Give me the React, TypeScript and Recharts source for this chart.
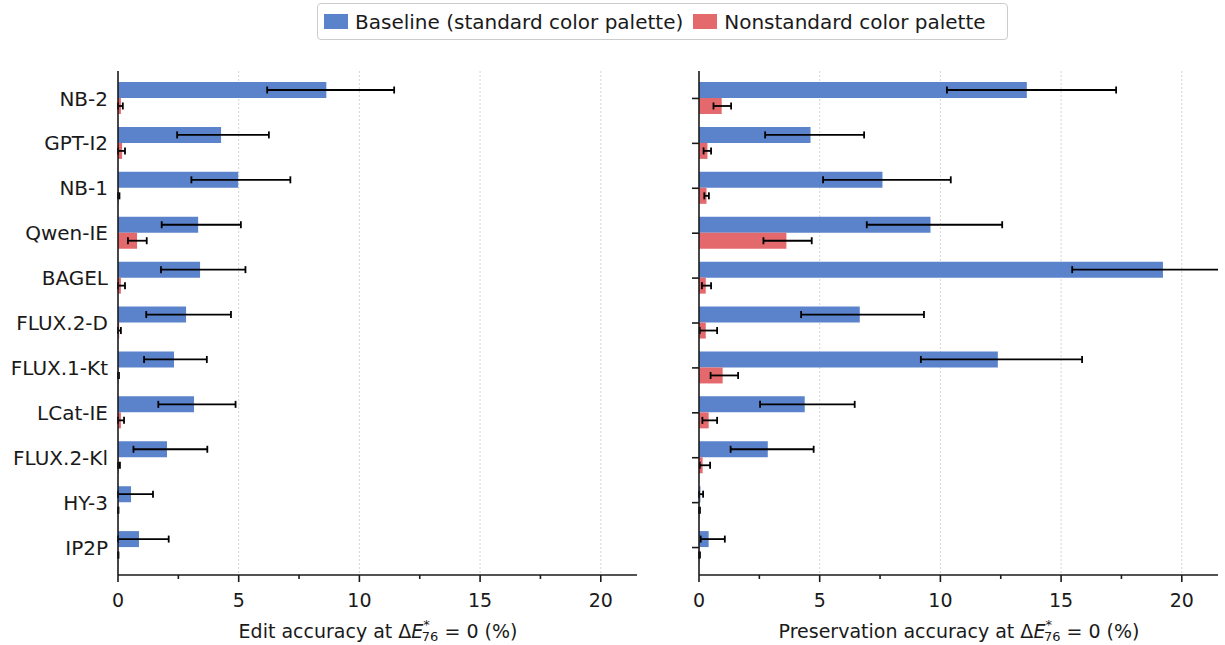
import { BarChart, Bar, XAxis, YAxis, CartesianGrid, ErrorBar } from 'recharts'

// categories (top to bottom)
const models = ['NB-2', 'GPT-I2', 'NB-1', 'Qwen-IE', 'BAGEL', 'FLUX.2-D', 'FLUX.1-Kt', 'LCat-IE', 'FLUX.2-Kl', 'HY-3', 'IP2P']

// edit accuracy (%), errors as [below, above]
const editBaseline = [8.63, 4.27, 4.98, 3.32, 3.4, 2.82, 2.32, 3.15, 2.03, 0.54, 0.87]
const editBaselineErr = [[2.45, 2.81], [1.82, 1.98], [1.94, 2.16], [1.51, 1.77], [1.62, 1.88], [1.65, 1.86], [1.24, 1.36], [1.48, 1.72], [1.39, 1.67], [0.54, 0.91], [0.87, 1.23]]
const editNonstd = [0.12, 0.17, 0.03, 0.79, 0.12, 0.05, 0.02, 0.12, 0.04, 0.01, 0.01]
const editNonstdErr = [[0.12, 0.08], [0.17, 0.12], [0.03, 0.03], [0.38, 0.4], [0.12, 0.17], [0.05, 0.07], [0.02, 0.02], [0.12, 0.13], [0.04, 0.04], [0.01, 0.01], [0.01, 0.01]]

// preservation accuracy (%)
const presBaseline = [13.58, 4.62, 7.6, 9.59, 19.22, 6.66, 12.38, 4.38, 2.85, 0.06, 0.4]
const presBaselineErr = [[3.31, 3.7], [1.88, 2.22], [2.46, 2.83], [2.64, 2.97], [3.76, 3.76], [2.43, 2.66], [3.19, 3.49], [1.85, 2.07], [1.54, 1.9], [0.06, 0.11], [0.33, 0.67]]
const presNonstd = [0.94, 0.35, 0.31, 3.62, 0.28, 0.28, 0.98, 0.4, 0.15, 0.02, 0.02]
const presNonstdErr = [[0.34, 0.39], [0.16, 0.15], [0.09, 0.1], [0.95, 1.05], [0.16, 0.22], [0.25, 0.47], [0.5, 0.64], [0.26, 0.35], [0.12, 0.31], [0.02, 0.02], [0.02, 0.02]]

const xTicks = [0, 2.5, 5, 7.5, 10, 12.5, 15, 17.5, 20]
const gridValues = [5, 10, 15, 20]

const series = [
  { name: 'Baseline (standard color palette)', color: '#5b83cb' },
  { name: 'Nonstandard color palette', color: '#e4696d' },
]

const editData = models.map((model, i) => ({
  model,
  base: editBaseline[i],
  baseErr: editBaselineErr[i],
  non: editNonstd[i],
  nonErr: editNonstdErr[i],
}))

const presData = models.map((model, i) => ({
  model,
  base: presBaseline[i],
  baseErr: presBaselineErr[i],
  non: presNonstd[i],
  nonErr: presNonstdErr[i],
}))

const FONT = '"DejaVu Sans", "Open Sans", sans-serif'
const INK = '#1a1a1a'

const XTick = (props: any) => {
  const { x, y, payload } = props
  const major = payload.value % 5 === 0
  return (
    <g>
      <line x1={x} x2={x} y1={y} y2={y + (major ? 7 : 4)} stroke={INK} strokeWidth={1.6} />
      {major && (
        <text x={x} y={y + 32} textAnchor="middle" fontSize={19} fill={INK} fontFamily={FONT}>
          {payload.value}
        </text>
      )}
    </g>
  )
}

const AxisTitle = ({ cx, lead }: { cx: number; lead: string }) => (
  <svg style={{ position: 'absolute', left: cx - 250, top: 605, overflow: 'visible' }} width={500} height={40}>
    <text x={250} y={33} textAnchor="middle" fontSize={19} fill={INK} fontFamily={FONT}>
      <tspan>{lead} Δ</tspan>
      <tspan fontStyle="italic">E</tspan>
      <tspan fontSize={13} dy={-9}>*</tspan>
      <tspan fontSize={13} dx={-8} dy={12}>76</tspan>
      <tspan dy={-3}> = 0 (%)</tspan>
    </text>
  </svg>
)

const Panel = ({ data, showLabels, width }: { data: any[]; showLabels: boolean; width: number }) => (
  <BarChart
    width={width}
    height={645}
    data={data}
    layout="vertical"
    barGap={0}
    margin={{ top: 71, right: showLabels ? 8 : 0, left: 0, bottom: 0 }}
  >
    <CartesianGrid horizontal={false} verticalValues={gridValues} stroke="#d4d4d4" strokeDasharray="2 2" />
    <XAxis
      type="number"
      domain={[0, 21.5]}
      ticks={xTicks}
      interval={0}
      allowDataOverflow
      height={70}
      tickLine={false}
      tickSize={0}
      tickMargin={0}
      tick={<XTick />}
      axisLine={{ stroke: INK, strokeWidth: 1.6 }}
    />
    <YAxis
      type="category"
      dataKey="model"
      width={showLabels ? 118 : 59}
      padding={{ top: 5, bottom: 5 }}
      tickLine={showLabels ? false : { stroke: INK, strokeWidth: 1.6 }}
      tickSize={showLabels ? 6 : 7}
      tickMargin={4}
      tickFormatter={showLabels ? undefined : () => ''}
      tick={{ fontSize: 20, fill: INK, fontFamily: FONT }}
      axisLine={{ stroke: INK, strokeWidth: 1.6 }}
    />
    <Bar dataKey="base" name={series[0].name} fill={series[0].color} barSize={16} isAnimationActive={false}>
      <ErrorBar dataKey="baseErr" direction="x" width={3.5} stroke="#000" strokeWidth={1.8} />
    </Bar>
    <Bar dataKey="non" name={series[1].name} fill={series[1].color} barSize={16} isAnimationActive={false}>
      <ErrorBar dataKey="nonErr" direction="x" width={3.5} stroke="#000" strokeWidth={1.8} />
    </Bar>
  </BarChart>
)

export default function App() {
  return (
    <div style={{ position: 'fixed', left: 0, top: 0, width: 1225, height: 645, background: '#fff', fontFamily: FONT, color: INK }}>
      <div
        style={{
          position: 'absolute',
          left: 317,
          top: 3,
          width: 683,
          height: 35,
          border: '1.5px solid #cccccc',
          borderRadius: 4,
          display: 'flex',
          alignItems: 'center',
          fontSize: 20,
          paddingLeft: 6,
          boxSizing: 'content-box',
          whiteSpace: 'nowrap',
        }}
      >
        {series.map((s) => (
          <div key={s.name} style={{ display: 'flex', alignItems: 'center', marginRight: 10 }}>
            <span style={{ display: 'inline-block', width: 24, height: 15, background: s.color, marginRight: 7 }} />
            <span>{s.name}</span>
          </div>
        ))}
      </div>
      <div style={{ position: 'absolute', left: 0, top: 0 }}>
        <Panel data={editData} showLabels width={645} />
      </div>
      <div style={{ position: 'absolute', left: 640, top: 0 }}>
        <Panel data={presData} showLabels={false} width={578} />
      </div>
      <AxisTitle cx={377.5} lead="Edit accuracy at" />
      <AxisTitle cx={958.5} lead="Preservation accuracy at" />
    </div>
  )
}
